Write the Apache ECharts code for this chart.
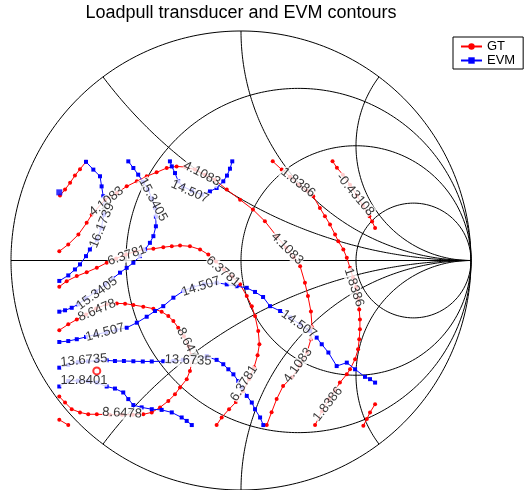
<!DOCTYPE html>
<html>
<head>
<meta charset="utf-8">
<script src="https://cdn.jsdelivr.net/npm/echarts@6/dist/echarts.min.js"></script>
<style>
  html, body { margin: 0; padding: 0; background: #fff; }
  #chart { width: 524px; height: 490px; }
</style>
</head>
<body>
<div id="chart"></div>
<script>
// Contour paths in the reflection-coefficient plane: [Re(Gamma), Im(Gamma)]

// Transducer gain (GT) contours
const gtM0_43108a = [[0.398,0.433],[0.417,0.404],[0.443,0.374],[0.474,0.330],[0.504,0.283],[0.530,0.239],[0.558,0.193],[0.570,0.170],[0.583,0.142]];
const gtM0_43108b = [[0.532,-0.720],[0.547,-0.691],[0.561,-0.662],[0.583,-0.626]];
const gt1_8386a = [[0.138,0.432],[0.177,0.396],[0.213,0.365],[0.252,0.330],[0.287,0.304],[0.314,0.280],[0.343,0.229],[0.365,0.193],[0.387,0.157],[0.409,0.113],[0.423,0.084],[0.445,0.048],[0.460,0.012],[0.474,-0.032],[0.487,-0.074],[0.500,-0.117],[0.509,-0.165],[0.514,-0.213],[0.517,-0.257],[0.517,-0.300],[0.514,-0.343],[0.509,-0.387],[0.496,-0.430],[0.474,-0.474],[0.460,-0.496],[0.430,-0.532],[0.409,-0.565],[0.383,-0.604],[0.352,-0.657],[0.322,-0.717]];
const gt1_8386b = [[-0.787,0.283],[-0.765,0.309],[-0.743,0.339],[-0.722,0.370],[-0.700,0.398],[-0.674,0.430]];
const gt4_1083 = [[-0.790,0.040],[-0.751,0.070],[-0.707,0.113],[-0.671,0.164],[-0.649,0.200],[-0.591,0.265],[-0.540,0.294],[-0.497,0.323],[-0.453,0.345],[-0.410,0.367],[-0.367,0.384],[-0.323,0.403],[-0.280,0.410],[-0.243,0.407],[-0.200,0.396],[-0.157,0.374],[-0.113,0.352],[-0.062,0.309],[-0.004,0.265],[0.052,0.222],[0.104,0.171],[0.155,0.106],[0.196,0.057],[0.230,0.013],[0.257,-0.025],[0.278,-0.097],[0.291,-0.155],[0.304,-0.222],[0.309,-0.291],[0.304,-0.343],[0.287,-0.400],[0.257,-0.457],[0.222,-0.509],[0.183,-0.547],[0.155,-0.604],[0.133,-0.661],[0.112,-0.717]];
const gt6_3781a = [[-0.790,-0.114],[-0.758,-0.090],[-0.714,-0.068],[-0.671,-0.051],[-0.627,-0.032],[-0.584,-0.010],[-0.543,0.009],[-0.500,0.026],[-0.461,0.039],[-0.425,0.048],[-0.381,0.051],[-0.338,0.058],[-0.301,0.062],[-0.265,0.065],[-0.222,0.062],[-0.178,0.048],[-0.142,0.026],[-0.109,-0.004],[-0.074,-0.039],[-0.039,-0.070],[-0.004,-0.104],[0.025,-0.155],[0.047,-0.199],[0.061,-0.242],[0.075,-0.307],[0.080,-0.365],[0.072,-0.413],[0.057,-0.465],[0.035,-0.517],[0.009,-0.570],[-0.022,-0.617],[-0.052,-0.648],[-0.084,-0.684],[-0.106,-0.717]];
const gt6_3781b = [[-0.790,-0.694],[-0.751,-0.717]];
const gt8_6478 = [[-0.790,-0.304],[-0.751,-0.278],[-0.714,-0.257],[-0.674,-0.235],[-0.630,-0.209],[-0.584,-0.191],[-0.540,-0.187],[-0.504,-0.188],[-0.468,-0.194],[-0.425,-0.201],[-0.381,-0.210],[-0.345,-0.223],[-0.316,-0.242],[-0.294,-0.264],[-0.273,-0.293],[-0.248,-0.330],[-0.228,-0.374],[-0.217,-0.413],[-0.214,-0.445],[-0.222,-0.481],[-0.236,-0.517],[-0.265,-0.553],[-0.287,-0.583],[-0.316,-0.612],[-0.352,-0.640],[-0.388,-0.662],[-0.425,-0.670],[-0.470,-0.672],[-0.517,-0.672],[-0.570,-0.672],[-0.627,-0.670],[-0.664,-0.670],[-0.700,-0.662],[-0.736,-0.648],[-0.765,-0.619],[-0.790,-0.593]];

// EVM contours
const evm16_1739 = [[-0.674,0.430],[-0.642,0.396],[-0.613,0.367],[-0.606,0.323],[-0.599,0.280],[-0.591,0.243],[-0.596,0.200],[-0.607,0.143],[-0.626,0.091],[-0.657,0.048],[-0.674,0.019],[-0.700,-0.017],[-0.722,-0.039],[-0.751,-0.065],[-0.790,-0.089]];
const evm15_3405 = [[-0.490,0.432],[-0.468,0.403],[-0.447,0.374],[-0.426,0.343],[-0.404,0.309],[-0.387,0.270],[-0.374,0.230],[-0.370,0.191],[-0.370,0.149],[-0.381,0.106],[-0.396,0.077],[-0.417,0.048],[-0.439,0.019],[-0.468,-0.010],[-0.497,-0.032],[-0.526,-0.053],[-0.557,-0.078],[-0.591,-0.104],[-0.630,-0.135],[-0.674,-0.165],[-0.709,-0.191],[-0.736,-0.206],[-0.765,-0.217],[-0.790,-0.223]];
const evm14_507a = [[-0.309,0.432],[-0.301,0.410],[-0.287,0.381],[-0.273,0.345],[-0.252,0.322],[-0.213,0.304],[-0.171,0.287],[-0.135,0.301],[-0.106,0.316],[-0.077,0.345],[-0.061,0.370],[-0.048,0.400],[-0.038,0.432]];
const evm14_507b = [[-0.790,-0.355],[-0.751,-0.351],[-0.714,-0.343],[-0.674,-0.333],[-0.630,-0.322],[-0.587,-0.313],[-0.543,-0.302],[-0.497,-0.293],[-0.453,-0.271],[-0.410,-0.245],[-0.374,-0.220],[-0.338,-0.199],[-0.294,-0.162],[-0.251,-0.133],[-0.209,-0.115],[-0.161,-0.104],[-0.106,-0.097],[-0.062,-0.104],[-0.019,-0.112],[0.025,-0.119],[0.061,-0.137],[0.096,-0.159],[0.126,-0.199],[0.170,-0.220],[0.213,-0.248],[0.257,-0.278],[0.300,-0.307],[0.329,-0.336],[0.351,-0.365],[0.380,-0.401],[0.416,-0.460],[0.460,-0.445],[0.496,-0.474],[0.539,-0.507],[0.561,-0.517],[0.583,-0.532]];
const evm13_6735 = [[-0.790,-0.467],[-0.751,-0.455],[-0.709,-0.443],[-0.665,-0.439],[-0.626,-0.437],[-0.584,-0.435],[-0.548,-0.438],[-0.509,-0.438],[-0.468,-0.439],[-0.427,-0.440],[-0.388,-0.440],[-0.338,-0.439],[-0.294,-0.438],[-0.252,-0.433],[-0.209,-0.426],[-0.149,-0.419],[-0.106,-0.433],[-0.077,-0.452],[-0.055,-0.474],[-0.033,-0.496],[-0.012,-0.525],[0.003,-0.553],[0.025,-0.590],[0.047,-0.619],[0.061,-0.648],[0.083,-0.684],[0.097,-0.717]];
const evm12_8401 = [[-0.790,-0.549],[-0.751,-0.525],[-0.709,-0.524],[-0.665,-0.526],[-0.627,-0.532],[-0.584,-0.549],[-0.548,-0.558],[-0.512,-0.575],[-0.490,-0.604],[-0.468,-0.630],[-0.432,-0.640],[-0.388,-0.648],[-0.345,-0.651],[-0.301,-0.662],[-0.258,-0.684],[-0.236,-0.699],[-0.214,-0.717]];

// Optimum load points
const gtOptimum = [-0.627, -0.481];
const evmOptimum = [-0.790, 0.297];

// Contour level labels: [text, Re, Im]
const gtLabels = [
  ['4.1083',-0.585,0.257],['4.1083',-0.170,0.378],['4.1083',0.200,0.052],['4.1083',0.248,-0.457],
  ['6.3781',-0.496,0.022],['6.3781',-0.078,-0.048],['6.3781',0.013,-0.535],
  ['8.6478',-0.626,-0.217],['8.6478',-0.226,-0.374],['8.6478',-0.517,-0.665],
  ['1.8386',0.248,0.339],['1.8386',0.491,-0.117],['1.8386',0.378,-0.626],
  ['-0.43108',0.496,0.287]
];
const evmLabels = [
  ['16.1739',-0.604,0.152],
  ['15.3405',-0.383,0.265],['15.3405',-0.626,-0.143],
  ['14.507',-0.222,0.300],['14.507',-0.174,-0.113],['14.507',-0.591,-0.313],['14.507',0.252,-0.278],
  ['13.6735',-0.683,-0.435],['13.6735',-0.230,-0.435],
  ['12.8401',-0.683,-0.522]
];

// Orientation of each label along its contour (degrees, counter-clockwise)
const gtLabelRotation = [38,-27,-45,54,19,-40,58,23,-63,-3,-38,-72,52,-50];
const evmLabelRotation = [68,-62,36,-24,18,15,-35,5,-2,0];

// Smith chart grid values
const resistanceCircles = [0, 1/3, 1, 3];
const reactanceArcs = [0.5, 1, 2, -0.5, -1, -2];

const gtPaths = [gtM0_43108a, gtM0_43108b, gt1_8386a, gt1_8386b, gt4_1083, gt6_3781a, gt6_3781b, gt8_6478];
const evmPaths = [evm16_1739, evm15_3405, evm14_507a, evm14_507b, evm13_6735, evm12_8401];

// z = r + jx  ->  Gamma = (z - 1) / (z + 1)
function gamma(r, x) {
  const den = (r + 1) * (r + 1) + x * x;
  return [(r * r + x * x - 1) / den, (2 * x) / den];
}

function resistancePath(r) {
  const pts = [[1, 0]];
  const n = 720;
  for (let k = 1; k < n; k++) {
    const t = -Math.PI / 2 + Math.PI * k / n;
    pts.push(gamma(r, Math.tan(t)));
  }
  pts.push([1, 0]);
  return pts;
}

function reactancePath(x) {
  const pts = [];
  const n = 500;
  for (let k = 0; k < n; k++) {
    const t = (Math.PI / 2) * k / n;
    pts.push(gamma(Math.tan(t), x));
  }
  pts.push([1, 0]);
  return pts;
}

const FONT = 'Liberation Sans, Arial, Helvetica, sans-serif';

const gridSeries = [];
resistanceCircles.forEach(r => gridSeries.push(resistancePath(r)));
reactanceArcs.forEach(x => gridSeries.push(reactancePath(x)));
gridSeries.push([[-1, 0], [1, 0]]);

const series = [];
gridSeries.forEach((pts, i) => {
  series.push({
    name: 'grid' + i, type: 'line', data: pts, showSymbol: false, symbol: 'none',
    silent: true, z: 1, clip: false,
    lineStyle: { color: '#000', width: 1 }
  });
});

gtPaths.forEach(p => {
  series.push({
    name: 'GT', type: 'line', data: p, z: 3,
    symbol: 'circle', symbolSize: 4, showSymbol: true,
    lineStyle: { color: '#ff0000', width: 1 },
    itemStyle: { color: '#ff0000' }
  });
});
evmPaths.forEach(p => {
  series.push({
    name: 'EVM', type: 'line', data: p, z: 3,
    symbol: 'rect', symbolSize: 4, showSymbol: true,
    lineStyle: { color: '#0000ff', width: 1 },
    itemStyle: { color: '#0000ff' }
  });
});

function labelItems(list, rot) {
  return list.map((d, i) => ({
    name: d[0], value: [d[1], d[2]],
    label: { rotate: rot[i] }
  }));
}

const labelStyle = {
  show: true, position: 'inside', formatter: '{b}',
  color: '#000', fontSize: 13, fontFamily: FONT,
  backgroundColor: '#fff', padding: 0
};

series.push({
  name: 'GT levels', type: 'scatter', z: 5, silent: true,
  symbolSize: 0.1, itemStyle: { color: 'transparent' },
  data: labelItems(gtLabels, gtLabelRotation), label: labelStyle
});
series.push({
  name: 'EVM levels', type: 'scatter', z: 6, silent: true,
  symbolSize: 0.1, itemStyle: { color: 'transparent' },
  data: labelItems(evmLabels, evmLabelRotation), label: labelStyle
});

series.push({
  name: 'GT optimum', type: 'scatter', z: 7, silent: true,
  data: [gtOptimum], symbol: 'circle', symbolSize: 7,
  itemStyle: { color: '#fff', borderColor: '#ff0000', borderWidth: 2 }
});
series.push({
  name: 'EVM optimum', type: 'scatter', z: 7, silent: true,
  data: [evmOptimum], symbol: 'rect', symbolSize: 6,
  itemStyle: { color: '#0000ff' }
});

const chart = echarts.init(document.getElementById('chart'), null, { renderer: 'canvas' });
chart.setOption({
  animation: false,
  backgroundColor: '#fff',
  title: {
    text: 'Loadpull transducer and EVM contours',
    left: 241, top: 4, padding: 0, textAlign: 'center',
    textStyle: { fontSize: 18, fontWeight: 'normal', color: '#000', fontFamily: FONT }
  },
  legend: {
    data: ['GT', 'EVM'],
    orient: 'vertical', left: 453, top: 37,
    padding: [3, 8, 2, 7], itemGap: 1, itemWidth: 21, itemHeight: 8,
    borderColor: '#000', borderWidth: 1, borderRadius: 0,
    backgroundColor: '#fff',
    lineStyle: { width: 2 },
    textStyle: { fontSize: 13, fontFamily: FONT, color: '#000', lineHeight: 13 },
    selectedMode: false
  },
  grid: { left: 11, top: 31, width: 460, height: 460, containLabel: false },
  xAxis: { type: 'value', min: -1, max: 1, show: false },
  yAxis: { type: 'value', min: -1, max: 1, show: false },
  series: series
});
</script>
</body>
</html>
